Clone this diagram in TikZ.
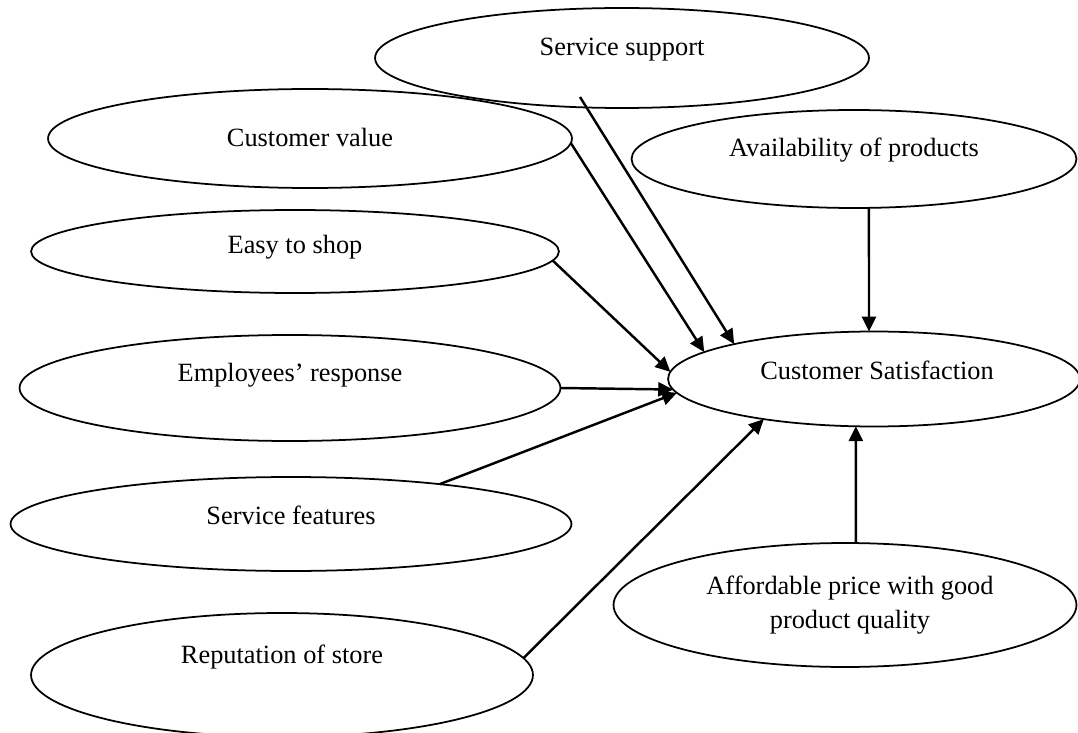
\documentclass[tikz,border=0pt]{standalone}
\usepackage{fontspec}
\setmainfont{Liberation Serif}
\usetikzlibrary{shapes.geometric}
\usetikzlibrary{arrows.meta}

\tikzset{
	factor/.style={draw, ellipse, line width=1pt, inner sep=0pt, outer sep=0pt},
	caption/.style={font=\fontsize{15}{19.8}\selectfont, align=center, inner sep=0pt},
	effect/.style={line width=1.4pt, -{Triangle[length=8.5pt, width=8pt]}}
}

\begin{document}
\begin{tikzpicture}[x=0.02cm, y=-0.02cm]
	\useasboundingbox (0,0) rectangle (1078,733);

	\node[factor, minimum width=9.88cm, minimum height=2cm](f_support) at (622,58){};
	\node[factor, minimum width=10.48cm, minimum height=1.98cm](f_value) at (310,138.5){};
	\node[factor, minimum width=10.56cm, minimum height=1.66cm](f_easy) at (295,251.5){};
	\node[factor, minimum width=10.82cm, minimum height=2.12cm](f_staff) at (290,388){};
	\node[factor, minimum width=11.22cm, minimum height=1.88cm](f_features) at (291,524){};
	\node[factor, minimum width=10.04cm, minimum height=2.48cm](f_repute) at (282,675){};
	\node[factor, minimum width=8.9cm, minimum height=1.96cm](f_avail) at (854,159){};
	\node[factor, minimum width=9.26cm, minimum height=2.48cm](f_price) at (845,605){};

	\node[factor, minimum width=8.24cm, minimum height=1.9cm](cs) at (874,379){};

	\node[caption](t_support) at (622,50){Service support};
	\node[caption](t_value) at (310,137){Customer value};
	\node[caption](t_easy) at (295,247){Easy to shop};
	\node[caption](t_staff) at (290,375){Employees’ response};
	\node[caption](t_features) at (291,515){Service features};
	\node[caption](t_repute) at (282,657){Reputation of store};
	\node[caption](t_avail) at (854,150){Availability of products};
	\node[caption](t_price) at (850,605){Affordable price with good\\product quality};
	\node[caption](t_cs) at (877,370){Customer Satisfaction};

	% the support arrow starts inside its ellipse
	\coordinate (support_out) at (580,97);

	\draw[effect] (support_out) -- (cs.166);
	\draw[effect] (f_value.-1) -- (cs.171);
	\draw[effect] (f_easy.-2) -- (cs.178);
	\draw[effect] (f_staff.0) -- (cs.183);
	\draw[effect] (f_features.15) -- (cs.184);
	\draw[effect] (f_repute.4) -- (cs.200);
	\draw[effect] (f_avail.-73) -- (cs.96);
	\draw[effect] (f_price.80) -- (cs.249);
\end{tikzpicture}
\end{document}
